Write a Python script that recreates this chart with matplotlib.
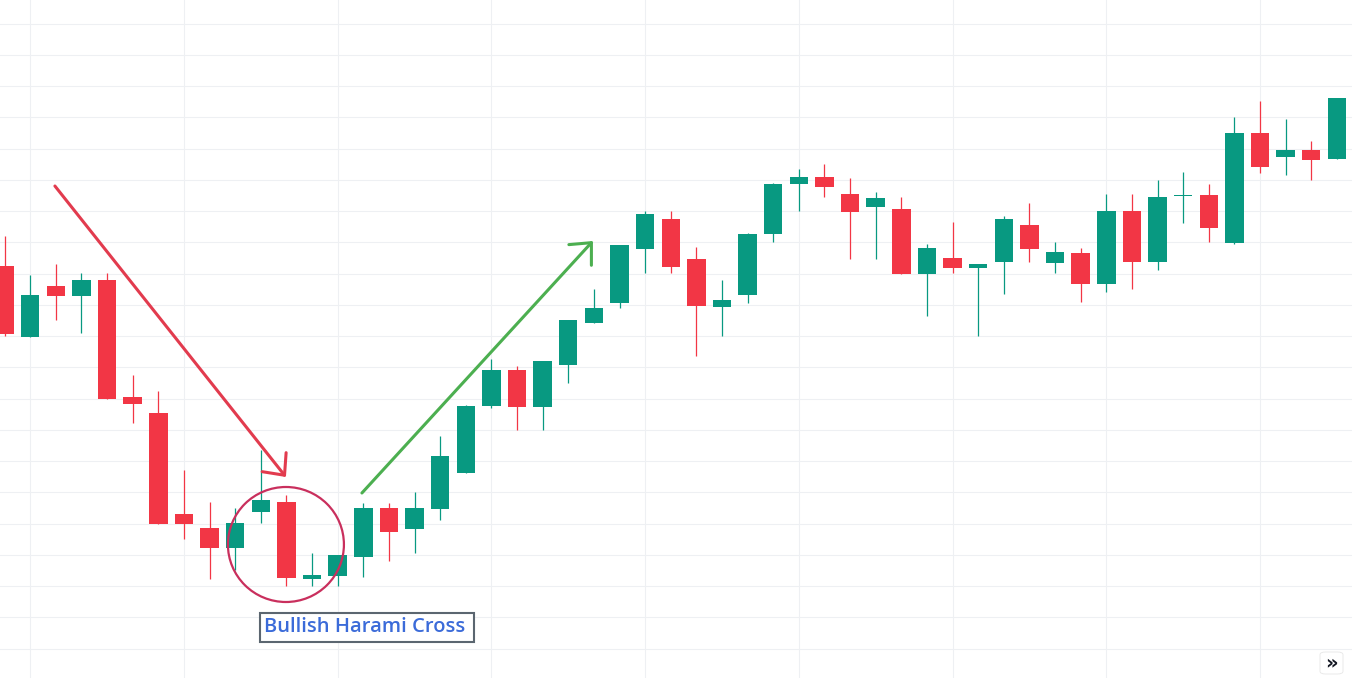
import matplotlib
matplotlib.use("Agg")
import matplotlib.pyplot as plt
from matplotlib.ticker import MultipleLocator
from matplotlib.patches import Ellipse, Rectangle, FancyBboxPatch
import numpy as np

# OHLC values (arbitrary price units)
opens  = [412, 341, 392, 382, 398, 281, 265, 164, 150, 130, 166, 176, 99, 102, 121, 170, 149, 169, 205, 272,
          308, 271, 313, 355, 375, 429, 459, 419, 371, 383, 444, 494, 501, 484, 471, 469, 404, 420, 410, 416,
          453, 415, 425, 394, 467, 416, 482, 483, 435, 545, 521, 528, 519]
highs  = [442, 403, 414, 405, 405, 303, 287, 208, 176, 170, 228, 183, 125, 123, 175, 175, 186, 242, 273, 319,
          312, 317, 358, 389, 433, 467, 467, 431, 398, 445, 495, 509, 514, 500, 486, 481, 434, 456, 414, 462,
          475, 436, 430, 484, 484, 498, 506, 494, 561, 577, 559, 537, 580]
lows   = [342, 341, 358, 345, 279, 255, 154, 139, 99, 108, 155, 92, 92, 92, 101, 117, 125, 158, 205, 270,
          248, 248, 295, 355, 370, 405, 405, 322, 342, 375, 436, 467, 481, 419, 419, 404, 362, 405, 342, 384,
          416, 405, 376, 386, 389, 408, 455, 436, 434, 505, 503, 498, 519]
closes = [344, 383, 382, 398, 279, 274, 154, 154, 130, 155, 178, 100, 103, 123, 170, 146, 170, 222, 272, 308,
          271, 317, 358, 370, 433, 464, 411, 372, 378, 444, 494, 501, 491, 466, 480, 404, 430, 410, 414, 459,
          429, 426, 394, 467, 416, 481, 483, 450, 545, 511, 528, 518, 580]

pattern_label = "Bullish Harami Cross"

UP = "#089981"
DOWN = "#F23645"

W, H = 1352, 678
fig = plt.figure(figsize=(W / 100, H / 100), dpi=100)
ax = fig.add_axes([0, 0, 1, 1])

o = np.array(opens, float)
h = np.array(highs, float)
l = np.array(lows, float)
c = np.array(closes, float)
x = np.arange(len(o))
colors = [UP if cc >= oo else DOWN for oo, cc in zip(o, c)]

ax.vlines(x, l, h, colors=colors, linewidth=0.9, zorder=3)
bottoms = np.minimum(o, c)
heights = np.maximum(np.abs(c - o), 1.5)
ax.bar(x, heights, bottom=bottoms, width=0.72, color=colors, edgecolor="none", zorder=4)

ax.set_xlim(-0.18, 52.59)
ax.set_ylim(0, 678)

ax.xaxis.set_major_locator(MultipleLocator(6, offset=1))
ax.yaxis.set_major_locator(MultipleLocator(31.25, offset=29.5))
ax.grid(True, color="#eef0f3", linewidth=0.8, zorder=0)
ax.tick_params(left=False, bottom=False, labelleft=False, labelbottom=False)
for s in ax.spines.values():
    s.set_visible(False)

# Trend arrows
def px2data(px, py):
    return ((px - 5.7) / 25.62, 678 - py)

red_arrow = "#e23b4e"
green_arrow = "#4caf50"
ax.annotate("", xy=px2data(287, 477), xytext=px2data(56, 186),
            arrowprops=dict(arrowstyle="->,head_length=0.6,head_width=0.55", lw=2.2,
                            color=red_arrow, shrinkA=0, shrinkB=0, mutation_scale=20,
                            capstyle="round", joinstyle="round"), zorder=5)
ax.annotate("", xy=px2data(594, 241), xytext=px2data(363, 493),
            arrowprops=dict(arrowstyle="->,head_length=0.6,head_width=0.55", lw=2.2,
                            color=green_arrow, shrinkA=0, shrinkB=0, mutation_scale=20,
                            capstyle="round", joinstyle="round"), zorder=5)

# Circle around the pattern
cx, cy = px2data(287, 544.5)
ax.add_patch(Ellipse((cx, cy), width=116 / 25.62, height=115, fill=False,
                     edgecolor="#c92f5d", linewidth=1.6, zorder=6))

# Label box
bx0, by0, bw, bh = 260, 613, 214, 29
fig.patches.append(Rectangle((bx0 / W, 1 - (by0 + bh) / H), bw / W, bh / H,
                             transform=fig.transFigure, facecolor="white",
                             edgecolor="#5b6670", linewidth=1.5, zorder=7))
fig.text(264 / W, 1 - (by0 + bh / 2) / H, pattern_label,
         ha="left", va="center", fontsize=14.5, color="#3b6bd9", fontweight="semibold",
         family=["Open Sans", "DejaVu Sans"], zorder=8)

# Scroll button (bottom right)
fig.patches.append(FancyBboxPatch((1320 / W, 1 - 674 / H), 23 / W, 22 / H,
                                  boxstyle="round,pad=0,rounding_size=0.004",
                                  transform=fig.transFigure, facecolor="white",
                                  edgecolor="#e6e6e6", linewidth=0.6, zorder=7))
fig.text(1331.5 / W, 1 - 663 / H, "»", ha="center", va="center", fontsize=14,
         fontweight="bold", color="#131722", zorder=8)

fig.savefig("out.png", dpi=100, facecolor="white")
